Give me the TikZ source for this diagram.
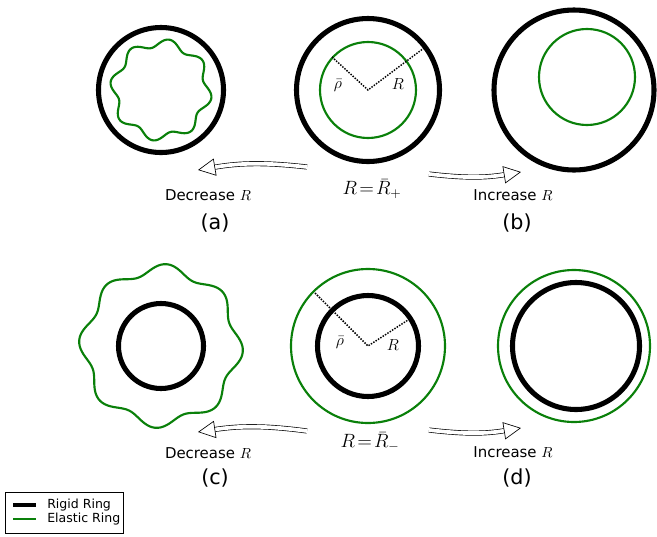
\documentclass[tikz,border=0pt]{standalone}
\usepackage{fontspec}
\setmainfont{DejaVu Sans}
\usepackage{amsmath}
\usetikzlibrary{arrows.meta}
\definecolor{ringgreen}{HTML}{0A800A}
\tikzset{
  rigid/.style={line width=3.8pt,black},
  elastic/.style={line width=1.6pt,ringgreen},
  radiusline/.style={densely dotted,line width=1.1pt},
  hollow/.style={double=white,double distance=2.8pt,line width=0.5pt,
    -{Triangle[open,length=13pt,width=13pt,line width=0.5pt]}},
  caption/.style={font=\fontsize{11.2}{13}\selectfont},
  tag/.style={font=\fontsize{15.5}{18}\selectfont},
  eqn/.style={font=\fontsize{14.5}{17}\selectfont},
  sym/.style={font=\fontsize{12}{14}\selectfont},
  legendtext/.style={font=\fontsize{9.4}{11}\selectfont,anchor=west,inner sep=0pt}
}
\begin{document}
\begin{tikzpicture}[x=0.75pt,y=-0.75pt]
\useasboundingbox (0,0) rectangle (657,536);
% top row
\draw[rigid] (161,90) circle[radius=62.5];
\draw[elastic,smooth,samples=181,domain=0:360,shift={(161,90)}] plot ({\x}:{47+4*sin(8*\x+15)}) -- cycle;
\draw[rigid] (368,90) circle[radius=71.5];
\draw[elastic] (368,90) circle[radius=48];
\coordinate (cp) at (368,90);
\coordinate (rhop) at (332,57);
\coordinate (Rp) at (424,48);
\draw[radiusline] (rhop) -- (cp) -- (Rp);
\node[sym] (rhoplab) at (338,86) {$\bar\rho$};
\node[sym] (Rplab) at (398,84) {$R$};
\draw[rigid] (574,90) circle[radius=80];
\draw[elastic] (587,77) circle[radius=48];
% bottom row
\draw[elastic,smooth,samples=181,domain=0:360,shift={(161,346)}] plot ({\x}:{77+5*sin(8*\x+60)}) -- cycle;
\draw[rigid] (161,346) circle[radius=42.5];
\draw[elastic] (368,346) circle[radius=77];
\draw[rigid] (368,346) circle[radius=50.5];
\coordinate (cm) at (368,346);
\coordinate (rhom) at (315,293);
\coordinate (Rm) at (408,320);
\draw[radiusline] (rhom) -- (cm) -- (Rm);
\node[sym] (rhomlab) at (340,343) {$\bar\rho$};
\node[sym] (Rmlab) at (393,345) {$R$};
\draw[elastic] (574,346) circle[radius=76];
\draw[rigid] (576,346) circle[radius=63.5];
% arrows
\coordinate (tlt) at (307,167);
\coordinate (tlh) at (198,170);
\coordinate (trt) at (429,174);
\coordinate (trh) at (521,172);
\coordinate (blt) at (307,431);
\coordinate (blh) at (198,432);
\coordinate (brt) at (429,430);
\coordinate (brh) at (521,428);
\draw[hollow] (tlt) to[bend right=8] (tlh);
\draw[hollow] (trt) to[bend right=8] (trh);
\draw[hollow] (blt) to[bend right=8] (blh);
\draw[hollow] (brt) to[bend right=8] (brh);
% texts
\node[eqn] (eqp) at (372,189) {$R\!=\!{\bar R}_{+}$};
\node[eqn] (eqm) at (370,442) {$R\!=\!{\bar R}_{-}$};
\node[caption] (deca) at (208,195) {Decrease $R$};
\node[caption] (incb) at (513,195) {Increase $R$};
\node[caption] (decc) at (208,453) {Decrease $R$};
\node[caption] (incd) at (513,452) {Increase $R$};
\node[tag] (taga) at (215,223) {(a)};
\node[tag] (tagb) at (517,223) {(b)};
\node[tag] (tagc) at (215,478) {(c)};
\node[tag] (tagd) at (517,478) {(d)};
% legend
\draw[line width=0.6pt] (5,492) rectangle (123,533);
\draw[line width=3pt] (13,505) -- (36,505);
\draw[elastic] (13,519) -- (36,519);
\node[legendtext] (lrigid) at (47,505) {Rigid Ring};
\node[legendtext] (lelastic) at (47,519) {Elastic Ring};
\end{tikzpicture}
\end{document}
